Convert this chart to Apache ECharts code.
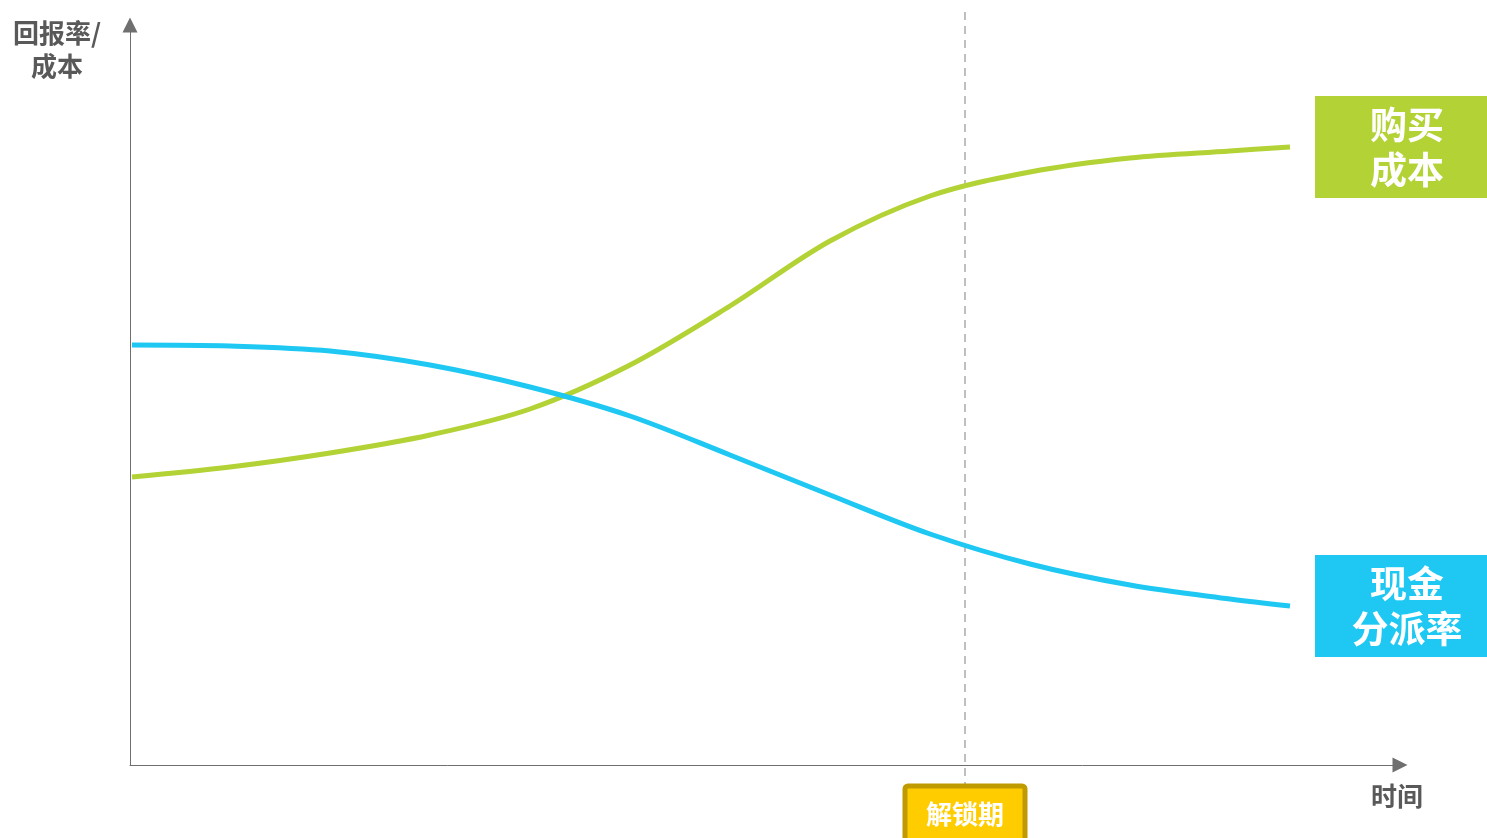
<!DOCTYPE html>
<html>
<head>
<meta charset="utf-8">
<script src="https://cdn.jsdelivr.net/npm/echarts@6/dist/echarts.min.js"></script>
<style>
  html, body { margin: 0; padding: 0; background: #fff; }
  #main { width: 1487px; height: 838px; }
</style>
</head>
<body>
<div id="main"></div>
<script>
// time positions shared by both curves
const timeX = [0.2, 10, 20, 30, 40, 50, 60, 70, 80, 90, 100, 110, 116];
// 购买成本
const costY = [28.8, 29.8, 31.2, 33.0, 35.6, 40.0, 45.9, 52.4, 56.9, 59.3, 60.7, 61.4, 61.8];
// 现金分派率
const payoutY = [42.0, 41.9, 41.4, 40.0, 37.8, 34.9, 31.0, 27.0, 23.1, 20.1, 18.0, 16.6, 15.9];
const unlockX = 83.5;

const FONT = '"Noto Sans CJK SC", sans-serif';
const GREEN = '#b3d235';
const BLUE = '#1ec8f3';

function pairs(ys) {
  return timeX.map((x, i) => [x, ys[i]]);
}

function endLabel(text, color) {
  return {
    show: true,
    distance: 25,
    formatter: text.map(t => '{t|' + t + '}').join('\n'),
    backgroundColor: color,
    width: 184,
    padding: [6, 0, 6, 0],
    rich: {
      t: {
        align: 'center',
        color: '#fff',
        fontSize: 37,
        fontWeight: 'bold',
        lineHeight: 45,
        fontFamily: FONT,
      },
    },
  };
}

const chart = echarts.init(document.getElementById('main'));

const axisLine = {
  show: true,
  symbol: ['none', 'triangle'],
  symbolSize: [15, 15],
  lineStyle: { color: '#6f6f6f', width: 1 },
};

const option = {
  animation: false,
  grid: { left: 130, right: 87, top: 25, bottom: 73 },
  xAxis: {
    type: 'value',
    min: 0,
    max: 127,
    axisLine: axisLine,
    axisTick: { show: false },
    axisLabel: { show: false },
    splitLine: { show: false },
  },
  yAxis: {
    type: 'value',
    min: 0,
    max: 74,
    axisLine: axisLine,
    axisTick: { show: false },
    axisLabel: { show: false },
    splitLine: { show: false },
  },
  series: [
    {
      name: '购买成本',
      type: 'line',
      smooth: 0.33,
      showSymbol: false,
      lineStyle: { color: GREEN, width: 5, cap: 'butt' },
      data: pairs(costY),
      endLabel: endLabel(['购买', '成本'], GREEN),
    },
    {
      name: '现金分派率',
      type: 'line',
      smooth: 0.33,
      showSymbol: false,
      lineStyle: { color: BLUE, width: 5, cap: 'butt' },
      data: pairs(payoutY),
      endLabel: endLabel(['现金', '分派率'], BLUE),
    },
  ],
};

chart.setOption(option);

// unlock marker: dashed line + tag, placed from the axis scale
const ux = chart.convertToPixel({ gridIndex: 0 }, [unlockX, 0])[0];

chart.setOption({
  graphic: [
    {
      type: 'line',
      z: 1,
      shape: { x1: ux, y1: 12, x2: ux, y2: 784 },
      style: { stroke: '#bfbfbf', lineWidth: 2, lineDash: [8, 6] },
    },
    {
      type: 'rect',
      z: 5,
      shape: { x: ux - 60, y: 786, width: 120, height: 60, r: 3 },
      style: { fill: '#ffcc00', stroke: '#bf9a00', lineWidth: 5 },
    },
    {
      type: 'text',
      z: 6,
      style: {
        x: ux, y: 814, text: '解锁期', align: 'center', verticalAlign: 'middle',
        fill: '#fff', font: 'bold 26px ' + FONT,
      },
    },
    {
      type: 'text',
      style: {
        x: 57, y: 17, text: '回报率/\n成本', align: 'center', verticalAlign: 'top',
        lineHeight: 33, fill: '#595959', font: 'bold 26px ' + FONT,
      },
    },
    {
      type: 'text',
      style: {
        x: 1397, y: 796, text: '时间', align: 'center', verticalAlign: 'middle',
        fill: '#595959', font: 'bold 26px ' + FONT,
      },
    },
  ],
});
</script>
</body>
</html>
